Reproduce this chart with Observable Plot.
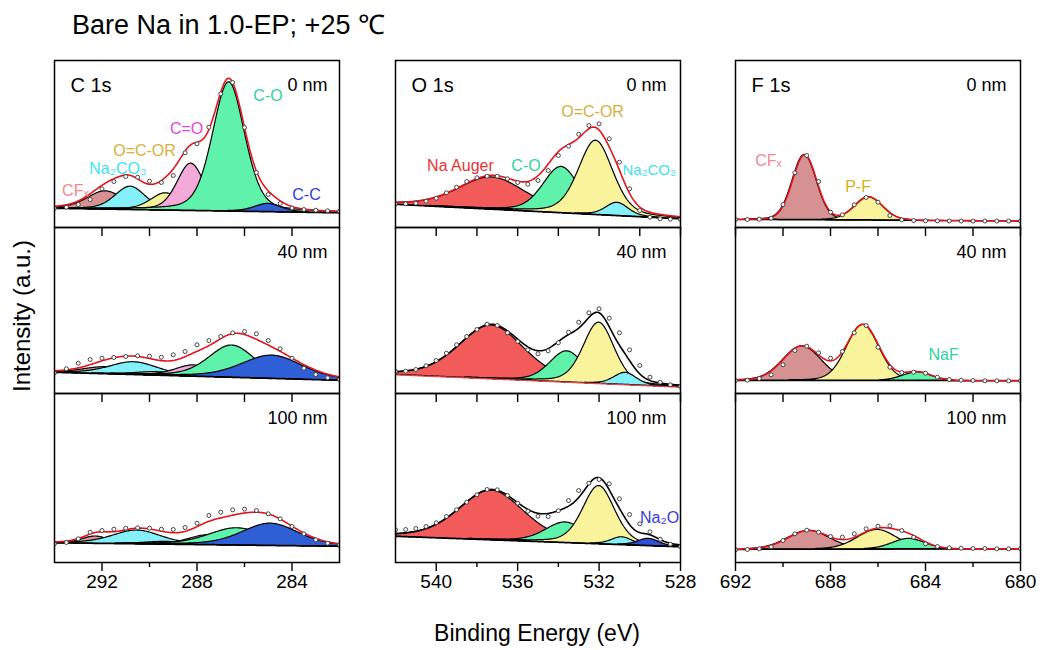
<!DOCTYPE html>
<html><head><meta charset="utf-8">
<script src="https://cdn.jsdelivr.net/npm/d3@7"></script>
<script src="https://cdn.jsdelivr.net/npm/@observablehq/plot@0.6"></script>
<style>
html,body{margin:0;padding:0;background:#fff;}
#fig{position:relative;width:1045px;height:650px;overflow:hidden;font-family:"Liberation Sans",Arial,Helvetica,sans-serif;color:#000;}
#title{position:absolute;left:72px;top:12px;font-size:27px;line-height:1;white-space:nowrap;}
#ylab{position:absolute;left:22px;top:316px;font-size:24px;line-height:1;white-space:nowrap;transform:translate(-50%,-50%) rotate(-90deg);}
#xlab{position:absolute;left:537px;top:633px;font-size:23px;line-height:1;white-space:nowrap;transform:translate(-50%,-50%);}
</style></head><body>
<div id="fig">
<div id="title">Bare Na in 1.0-EP; +25 ℃</div>
<div id="ylab">Intensity (a.u.)</div>
<div id="xlab">Binding Energy (eV)</div>
</div>
<script>
// ================= DATA =================
const columnTitles = ["C 1s", "O 1s", "F 1s"];
const depthLabels = ["0 nm", "40 nm", "100 nm"];

const cDomain = [294, 282];
const oDomain = [542, 528];
const fDomain = [692, 680];
const cMajorTicks = [292, 288, 284];
const cMinorTicks = [290, 286];
const oMajorTicks = [540, 536, 532, 528];
const oMinorTicks = [538, 534, 530];
const fMajorTicks = [692, 688, 684, 680];
const fMinorTicks = [690, 686, 682];

// measured energies (eV)
const cEnergy = [294,293.5,293,292.5,292,291.5,291,290.5,290,289.5,289,288.5,288,287.5,287,286.5,286,285.5,285,284.5,284,283.5,283,282.5,282];
const oEnergy = [542,541.5,541,540.5,540,539.5,539,538.5,538,537.5,537,536.5,536,535.5,535,534.5,534,533.5,533,532.5,532,531.5,531,530.5,530,529.5,529,528.5,528];
const fEnergy = [692,691.5,691,690.5,690,689.5,689,688.5,688,687.5,687,686.5,686,685.5,685,684.5,684,683.5,683,682.5,682,681.5,681,680.5,680];

// component names
const cNames = ["CFx", "Na2CO3", "O=C-OR", "C=O", "C-O", "C-C"];
const oNames4 = ["Na Auger", "C-O", "O=C-OR", "Na2CO3"];
const oNames5 = ["Na Auger", "C-O", "O=C-OR", "Na2CO3", "Na2O"];
const fNames2 = ["CFx", "P-F"];
const fNames3 = ["CFx", "P-F", "NaF"];

// ---- C 1s ----
const c0Data = [19.3,20.3,23,28,38.7,46,51,50.3,46.3,45,52,74.7,83.7,100.3,133.7,145,100,55,33,24,19.5,18,17.2,16.7,16.3];
const c0Center = [291.85, 290.8, 289.3, 288.25, 286.65, 285.0];
const c0Height = [18, 23, 17, 47, 129, 8];
const c0Fwhm = [1.8, 1.5, 1.5, 1.35, 1.6, 1.3];
const c0Background = [19, 14.5];

const c40Data = [20.7,24.7,30.3,34,35.3,36,37,37.7,37.3,36.3,38.7,42,48.7,53,57,60.7,62,59.7,53,44.7,35.3,25.3,19,15.7,14];
const c40Center = [291.85, 290.66, 289.68, 288.13, 286.52, 284.83];
const c40Height = [6.7, 12.5, 3.2, 11, 32, 23];
const c40Fwhm = [2.2, 2.4, 2.0, 1.8, 2.3, 3.0];
const c40Background = [21, 13];

const c100Data = [18.7,20,23.7,30.3,32,33.3,34.3,34.7,34.3,33.3,33,35,39.3,47,50.3,52.7,53.3,52,48.7,43.7,36,28.7,22.7,19.3,17.7];
const c100Center = [292.27, 290.52, 289.3, 287.57, 286.31, 284.9];
const c100Height = [7, 13.5, 2.5, 9.5, 17, 22];
const c100Fwhm = [1.3, 2.4, 2.0, 1.8, 2.8, 2.8];
const c100Background = [19.5, 16];

// ---- O 1s ----
const o0Data = [23.7,23.7,24.3,26.3,29.3,34.7,40.3,46,49.7,51.3,51.3,48.7,45,43.3,47,57,72,81.3,93.3,102,103.7,88.7,65.3,38.7,17,10.3,8.7,8.3,8];
const o0Center = [537.25, 533.85, 532.15, 531.1];
const o0Height = [32, 46, 74, 13];
const o0Fwhm = [3.9, 2.1, 2.0, 1.3];
const o0Background = [23, 8.5];

const o40Data = [22,22.3,24,27.7,33,40.3,48.7,57,64,69.3,68,60.7,52,43.7,39.7,42.7,50.7,61.3,71.3,80.7,84.7,75.3,60.7,43.7,28,16.3,11.3,8.7,7];
const o40Center = [537.28, 533.57, 532.0, 530.7];
const o40Height = [53.5, 31, 61, 12];
const o40Fwhm = [3.8, 2.0, 1.8, 1.3];
const o40Background = [18.7, 6.3];

const o100Data = [32.7,33,34,36,39.7,46,52.7,60.3,67.7,73,72.7,67,59.3,51.3,46.3,46,51.7,62,72,79.3,83,78.7,63.7,48,38.7,30.7,23.3,18.3,16];
const o100Center = [537.28, 533.65, 532.0, 530.87, 529.56];
const o100Height = [49.5, 20.3, 58, 7.6, 7];
const o100Fwhm = [3.8, 2.3, 1.85, 1.2, 1.2];
const o100Background = [26, 15.5];

// ---- F 1s ----
const f0Data = [8,8,8.3,9.3,23,54.7,72,46,15.3,12.7,22.7,30,25.3,12,7.7,7,6.7,6.7,6.5,6.5,6.5,6.5,6.5,6.5,6.5];
const f0Center = [689.09, 686.39];
const f0Height = [65, 23];
const f0Fwhm = [1.2, 1.4];
const f0Background = [8, 6.5];

const f40Data = [13,13.3,15,18.7,28.7,43,47.3,40.7,35.3,42,60.7,68,46.3,26.3,21,21.3,20.3,16.3,14,13.3,13,12.7,12.7,12.7,12.7];
const f40Center = [689.19, 686.63, 684.35];
const f40Height = [34.3, 55.7, 8.3];
const f40Fwhm = [1.9, 1.6, 1.4];
const f40Background = [13, 12.7];

const f100Data = [12.7,13,13.7,15.7,22,28.7,32.3,30.3,26,25.3,28.7,33.7,36.3,36.7,32,25.3,18.7,16,14.7,14.3,14,14,13.7,13.7,13.7];
const f100Center = [688.91, 686.03, 684.7];
const f100Height = [18.6, 19.3, 10.3];
const f100Fwhm = [2.1, 1.95, 1.6];
const f100Background = [13, 13.5];

// annotation texts per panel
const c0Labels = ["CFx", "Na2CO3", "O=C-OR", "C=O", "C-O", "C-C"];
const o0Labels = ["Na Auger", "C-O", "O=C-OR", "Na2CO3"];
const f0Labels = ["CFx", "P-F"];
const f40Labels = ["NaF"];
const o100Labels = ["Na2O"];

// ================= STYLE / LAYOUT =================
const c0LabelAt = [[293.12, 37], [291.33, 59], [290.21, 77], [288.44, 99], [285.01, 132], [283.39, 33]];
const o0LabelAt = [[538.81, 62, "middle"], [535.59, 62, "middle"], [532.32, 115.5, "middle"], [530.85, 57, "start"]];
const f0LabelAt = [[690.61, 67], [686.84, 41]];
const f40LabelAt = [[683.24, 38.5]];
const o100LabelAt = [[529.03, 44.5]];

const fillOf = {"CFx":"#d69193","Na2CO3":"#84f1fa","O=C-OR":"#f9f39c","C=O":"#f3aad8","C-O":"#5ef2aa","C-C":"#2f5fd6",
  "Na Auger":"#f35b5b","Na2O":"#2f4fd6","P-F":"#f9f39c","NaF":"#5ef2aa"};
const labelColorOf = {"CFx":"#f08a8c","Na2CO3":"#3fe3ef","O=C-OR":"#d6b03c","C=O":"#e246e2","C-O":"#2dd39a","C-C":"#2a40e0",
  "Na Auger":"#e83434","Na2O":"#3a3ad8","P-F":"#d4b21e","NaF":"#2dd3a0"};
const displayOf = {"CFx":"CFₓ","Na2CO3":"Na₂CO₃","Na2O":"Na₂O"};

const colLeft = [54, 395, 735], colWidth = 285;
const rowTop = [60, 227, 393], rowHeight = [167, 166, 169];

const colSpec = [
  {domain: cDomain, major: cMajorTicks, minor: cMinorTicks, energy: cEnergy, mix: 0.3, depthDx: -12},
  {domain: oDomain, major: oMajorTicks, minor: oMinorTicks, energy: oEnergy, mix: 0.3, depthDx: -14},
  {domain: fDomain, major: fMajorTicks, minor: fMinorTicks, energy: fEnergy, mix: 0.1, depthDx: -14}
];

const panels = [
  {col:0,row:0,names:cNames,center:c0Center,height:c0Height,fwhm:c0Fwhm,bg:c0Background,data:c0Data,env:"#e3141c",base:"#000",labels:c0Labels,labelAt:c0LabelAt},
  {col:0,row:1,names:cNames,center:c40Center,height:c40Height,fwhm:c40Fwhm,bg:c40Background,data:c40Data,env:"#e3141c",base:"#000"},
  {col:0,row:2,names:cNames,center:c100Center,height:c100Height,fwhm:c100Fwhm,bg:c100Background,data:c100Data,env:"#e3141c",base:"#000"},
  {col:1,row:0,names:oNames4,center:o0Center,height:o0Height,fwhm:o0Fwhm,bg:o0Background,data:o0Data,env:"#e3141c",base:"#000",labels:o0Labels,labelAt:o0LabelAt},
  {col:1,row:1,names:oNames4,center:o40Center,height:o40Height,fwhm:o40Fwhm,bg:o40Background,data:o40Data,env:"#000",base:"#e04848"},
  {col:1,row:2,names:oNames5,center:o100Center,height:o100Height,fwhm:o100Fwhm,bg:o100Background,data:o100Data,env:"#000",base:"#000",labels:o100Labels,labelAt:o100LabelAt},
  {col:2,row:0,names:fNames2,center:f0Center,height:f0Height,fwhm:f0Fwhm,bg:f0Background,data:f0Data,env:"#e3141c",base:"#000",labels:f0Labels,labelAt:f0LabelAt},
  {col:2,row:1,names:fNames3,center:f40Center,height:f40Height,fwhm:f40Fwhm,bg:f40Background,data:f40Data,env:"#e3141c",base:"#000",labels:f40Labels,labelAt:f40LabelAt},
  {col:2,row:2,names:fNames3,center:f100Center,height:f100Height,fwhm:f100Fwhm,bg:f100Background,data:f100Data,env:"#e3141c",base:"#000"}
];

// pseudo-Voigt (Gaussian-Lorentzian) line shape
function peak(E, c, h, w, m) {
  const d = (E - c) / (w / 2);
  return h * ((1 - m) * Math.exp(-Math.LN2 * d * d) + m / (1 + d * d));
}

const fig = document.getElementById("fig");

panels.forEach(p => {
  const cs = colSpec[p.col];
  const H = rowHeight[p.row];
  const mL = 3, mR = 3, mT = 3, mB = p.row === 2 ? 50 : 3;
  const [e0, e1] = cs.domain;
  const grid = d3.range(e0, e1 - 1e-9, -0.04);
  const bgAt = E => p.bg[0] + (p.bg[1] - p.bg[0]) * (e0 - E) / (e0 - e1);
  const rows = grid.map(E => {
    const comps = p.center.map((c, i) => peak(E, c, p.height[i], p.fwhm[i], cs.mix));
    const b = bgAt(E);
    return {E, b, comps, env: b + d3.sum(comps)};
  });

  const marks = [];
  p.names.forEach((n, i) => {
    const seg = rows.filter(r => r.comps[i] > 0.35);
    marks.push(Plot.areaY(seg, {x: "E", y1: "b", y2: r => r.b + r.comps[i], fill: fillOf[n],
      stroke: "#000", strokeWidth: 1.2, strokeLinejoin: "round", clip: true}));
  });
  marks.push(Plot.line(rows, {x: "E", y: "b", stroke: p.base, strokeWidth: 1.3, clip: true}));
  marks.push(Plot.line(rows, {x: "E", y: "env", stroke: p.env, strokeWidth: 1.6, clip: true}));
  marks.push(Plot.dot(cs.energy.map((E, i) => ({E, v: p.data[i]})),
    {x: "E", y: "v", r: 2, fill: "#fff", stroke: "#333", strokeWidth: 0.9, clip: true}));

  if (p.labels) {
    p.labels.forEach((n, i) => {
      const [E, v, anchor] = p.labelAt[i];
      marks.push(Plot.text([{E, v, t: displayOf[n] || n}], {x: "E", y: "v", text: "t",
        fill: labelColorOf[n], fontSize: anchor === "start" ? 15 : 16, textAnchor: anchor || "middle", clip: anchor === "start"}));
    });
  }
  if (p.row === 0) {
    marks.push(Plot.text([columnTitles[p.col]], {text: d => d, frameAnchor: "top-left", dx: 16, dy: 17,
      lineAnchor: "top", textAnchor: "start", fontSize: 20, fill: "#000"}));
  }
  marks.push(Plot.text([depthLabels[p.row]], {text: d => d, frameAnchor: "top-right", dx: cs.depthDx, dy: 18,
    lineAnchor: "top", textAnchor: "end", fontSize: 18, fill: "#000"}));

  marks.push(Plot.frame({stroke: "#000", strokeWidth: 1.5}));
  if (p.row > 0) {
    marks.push(Plot.axisX(cs.major.concat(cs.minor), {anchor: "bottom", frameAnchor: "top", tickSize: 9,
      tickFormat: () => "", label: null, strokeWidth: 1.4}));
  }
  if (p.row === 2) {
    marks.push(Plot.axisX(cs.major, {anchor: "bottom", tickSize: 9, tickPadding: 3, fontSize: 19,
      tickFormat: d => String(d), label: null, strokeWidth: 1.4}));
    marks.push(Plot.axisX(cs.minor, {anchor: "bottom", tickSize: 5, tickFormat: () => "", label: null, strokeWidth: 1.4}));
  }

  const svg = Plot.plot({
    width: colWidth + mL + mR,
    height: H + mT + mB,
    marginLeft: mL, marginRight: mR, marginTop: mT, marginBottom: mB,
    x: {domain: cs.domain, axis: null},
    y: {domain: [0, H], axis: null},
    style: {fontFamily: "'Liberation Sans', Arial, Helvetica, sans-serif", fontSize: "19px", overflow: "visible", background: "transparent", color: "#000"},
    marks
  });
  svg.style.position = "absolute";
  svg.style.left = (colLeft[p.col] - mL) + "px";
  svg.style.top = (rowTop[p.row] - mT) + "px";
  svg.style.maxWidth = "none";
  fig.appendChild(svg);
});
</script>
</body></html>
